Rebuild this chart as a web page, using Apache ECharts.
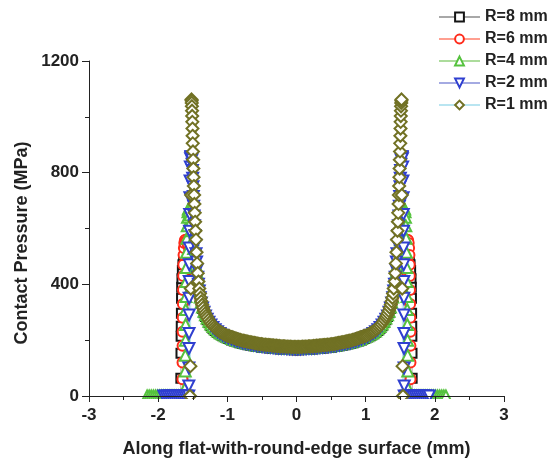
<!DOCTYPE html>
<html><head><meta charset="utf-8">
<script src="https://cdn.jsdelivr.net/npm/echarts@6/dist/echarts.min.js"></script>
<style>html,body{margin:0;padding:0;background:#fff}#c{width:549px;height:463px}</style>
</head><body><div id="c"></div>
<script>
// Half-profile (|x| in mm) — the chart is symmetric about x = 0
const seriesNames = ['R=8 mm', 'R=6 mm', 'R=4 mm', 'R=2 mm', 'R=1 mm'];
const xFlatHalf = [0.02,0.06,0.10,0.14,0.18,0.22,0.26,0.30,0.34,0.38,0.42,0.46,0.50,0.54,0.58,0.62,0.66,0.70,0.74,0.78,0.82,0.86,0.90,0.94];
const xKneeHalf = [0.986,1.028,1.068,1.106,1.142,1.176,1.208,1.238,1.266,1.292,1.316,1.338,1.358,1.376,1.392,1.406];

// R=1 mm (finer mesh)
const xFlatR1 = [0.01,0.03,0.05,0.07,0.09,0.11,0.13,0.15,0.17,0.19,0.21,0.23,0.25,0.27,0.29,0.31,0.33,0.35,0.37,0.39,0.41,0.43,0.45,0.47,0.49,0.51,0.53,0.55,0.57,0.59,0.61,0.63,0.65,0.67,0.69,0.71,0.73,0.75,0.77,0.79,0.81,0.83,0.85,0.87,0.89,0.91,0.93,0.95];
const yFlatR1 = [176,176,176,176,177,177,177,177,178,178,178,178,179,179,180,180,181,181,182,182,183,183,184,184,185,186,186,187,188,189,190,191,192,193,194,195,196,197,198,199,201,202,204,205,207,209,211,212];
const xKneeR1 = [0.97,0.99,1.01,1.03,1.05,1.07,1.09,1.11,1.13,1.15,1.17,1.19,1.21,1.23,1.25,1.27,1.29,1.305,1.32,1.335,1.35,1.363,1.375,1.386,1.396,1.406];
const yKneeR1 = [214,215,217,219,222,225,228,231,234,238,242,247,252,258,265,273,281,288,296,305,316,327,339,352,367,385];
const xEdgeR1 = [1.418,1.428,1.437,1.445,1.453,1.460,1.466,1.471,1.476,1.480,1.484,1.488,1.491,1.494,1.497,1.500,1.502,1.504,1.506,1.508,1.510,1.512,1.514,1.516,1.518,1.523,1.528,1.534,1.540];
const yEdgeR1 = [410,440,475,515,560,592,624,656,688,720,752,784,815,846,876,905,932,958,982,1003,1022,1038,1050,1058,1062,720,385,107,0];

// R=2 mm
const yFlatR2 = [169,169,170,170,171,171,172,173,174,175,176,177,178,180,181,183,185,187,189,191,194,197,200,204];
const yKneeR2 = [208,213,218,224,230,237,245,254,264,275,287,300,315,333,352,376];
const xEdgeR2 = [1.418,1.428,1.437,1.445,1.453,1.461,1.468,1.475,1.481,1.487,1.492,1.497,1.501,1.505,1.509,1.513,1.518,1.521,1.524,1.527,1.530,1.534,1.538,1.541,1.544,1.546,1.548,1.550,1.551,1.552,1.553,1.554,1.555,1.556,1.557,1.558,1.59,1.62,1.65,1.68,1.71,1.74,1.77,1.80,1.83,1.86,1.89,1.92];
const yEdgeR2 = [400,425,452,480,510,542,575,610,645,680,715,750,780,808,830,846,852,856,857,855,850,820,770,710,650,590,530,470,410,350,290,224,170,100,36,0,0,0,0,0,0,0,0,0,0,0,0,0];

// R=4 mm
const yFlatR4 = [171,171,172,172,173,173,174,175,176,177,178,179,180,182,183,185,187,189,191,193,196,199,202,206];
const yKneeR4 = [211,216,221,227,233,241,249,258,268,279,291,304,319,336,355,378];
const xEdgeR4 = [1.418,1.430,1.443,1.457,1.472,1.487,1.502,1.516,1.530,1.541,1.550,1.557,1.563,1.569,1.575,1.580,1.585,1.589,1.593,1.596,1.599,1.601,1.603,1.605,1.607,1.609,1.611,1.62,1.65,1.68,1.71,1.74,1.77,1.80,1.83,1.86,1.89,1.92,1.95,1.98,2.01,2.04,2.07,2.10,2.13,2.16];
const yEdgeR4 = [398,420,445,470,498,528,560,592,622,648,664,671,670,660,640,610,565,515,460,410,356,310,256,200,146,90,28,0,0,0,0,0,0,0,0,0,0,0,0,0,0,0,0,0,0,0];

// R=6 mm
const yFlatR6 = [170,170,171,171,172,172,173,174,175,176,177,178,179,181,182,184,186,188,190,192,195,198,201,205];
const yKneeR6 = [209,214,219,225,231,238,246,255,265,276,288,301,316,333,352,374];
const xEdgeR6 = [1.418,1.432,1.448,1.466,1.486,1.508,1.530,1.552,1.572,1.590,1.604,1.614,1.622,1.628,1.633,1.637,1.639,1.641,1.643,1.645,1.646,1.647,1.648,1.649,1.650,1.70,1.75,1.80,1.85];
const yEdgeR6 = [385,400,418,438,458,480,502,524,542,555,560,558,548,530,505,470,430,380,330,280,230,180,120,60,0,0,0,0,0];

// R=8 mm
const yFlatR8 = [166,166,167,167,168,168,169,170,171,172,173,174,175,177,178,180,182,184,186,188,191,194,197,201];
const yKneeR8 = [206,211,216,222,228,235,243,252,262,273,285,298,313,331,351,376];
const xEdgeR8 = [1.418,1.436,1.456,1.478,1.502,1.528,1.554,1.578,1.600,1.618,1.632,1.642,1.650,1.656,1.660,1.662,1.664,1.666,1.668,1.670,1.672,1.674,1.72,1.76];
const yEdgeR8 = [382,395,408,421,434,447,459,469,477,481,480,470,450,420,390,350,296,250,214,153,64,0,0,0];

function build(xf, yf, xk, yk, xe, ye) {
  const hx = xf.concat(xk, xe);
  const hy = yf.concat(yk, ye);
  const right = hx.map((x, i) => [x, hy[i]]);
  const left = right.slice().reverse().map(p => [-p[0], p[1]]);
  return left.concat(right);
}

const styles = [
  {sym:'emptyRect', size:9, rot:0, c:'#151515', lc:'#a8a8a8', bw:1},
  {sym:'emptyCircle', size:10, rot:0, c:'#ff2a1a', lc:'#ff9f90', bw:1},
  {sym:'emptyTriangle', size:11, rot:0, c:'#55c23e', lc:'#acdc9c', bw:1},
  {sym:'emptyTriangle', size:11, rot:180, c:'#2f3fd0', lc:'#a4aae2', bw:1},
  {sym:'emptyDiamond', size:12, rot:0, c:'#717124', lc:'#b9e5f1', bw:1.4}
];
const datas = [
  build(xFlatHalf, yFlatR8, xKneeHalf, yKneeR8, xEdgeR8, yEdgeR8),
  build(xFlatHalf, yFlatR6, xKneeHalf, yKneeR6, xEdgeR6, yEdgeR6),
  build(xFlatHalf, yFlatR4, xKneeHalf, yKneeR4, xEdgeR4, yEdgeR4),
  build(xFlatHalf, yFlatR2, xKneeHalf, yKneeR2, xEdgeR2, yEdgeR2),
  build(xFlatR1, yFlatR1, xKneeR1, yKneeR1, xEdgeR1, yEdgeR1)
];

const FONT = 'Liberation Sans, Arial, sans-serif';
const chart = echarts.init(document.getElementById('c'), null, {renderer:'canvas'});
chart.setOption({
  animation: false,
  backgroundColor: '#fff',
  grid: {left: 89, right: 45, top: 61, bottom: 65},
  legend: {
    orient: 'vertical', left: 433, top: 4, itemWidth: 41, itemHeight: 11, itemGap: 6,
    textStyle: {fontFamily: FONT, fontWeight: 'bold', fontSize: 16, color: '#222'},
    itemStyle: {borderWidth: 1},
    data: seriesNames
  },
  xAxis: {
    type: 'value', min: -3, max: 3, interval: 1, z: 150,
    name: 'Along flat-with-round-edge surface (mm)', nameLocation: 'middle', nameGap: 44,
    nameTextStyle: {fontFamily: FONT, fontWeight: 'bold', fontSize: 18, color: '#222'},
    axisLine: {onZero: false, lineStyle: {color: '#222', width: 1}},
    axisTick: {length: 6, lineStyle: {color: '#222'}},
    minorTick: {show: true, splitNumber: 2, length: 4, lineStyle: {color: '#222'}},
    splitLine: {show: false},
    axisLabel: {margin: 11, fontFamily: FONT, fontWeight: 'bold', fontSize: 17, color: '#222'}
  },
  yAxis: {
    type: 'value', min: 0, max: 1200, interval: 400, z: 150,
    axisLine: {show: true, onZero: false, lineStyle: {color: '#222', width: 1}},
    axisTick: {show: true, length: 7, lineStyle: {color: '#222'}},
    minorTick: {show: true, splitNumber: 2, length: 4, lineStyle: {color: '#222'}},
    splitLine: {show: false},
    axisLabel: {margin: 10, fontFamily: FONT, fontWeight: 'bold', fontSize: 17, color: '#222',
      formatter: v => String(v)}
  },
  graphic: [
    {type: 'rect', z: 100, shape: {x: 89, y: 399, width: 417, height: 10}, style: {fill: '#fff'}, silent: true},
    {type: 'text', z: 100, x: 22, y: 243, rotation: Math.PI / 2,
     style: {text: 'Contact Pressure (MPa)', fontFamily: FONT, fontWeight: 'bold', fontSize: 18, fill: '#222', align: 'center', verticalAlign: 'middle'}}
  ],
  series: seriesNames.map((n, i) => ({
    name: n, type: 'line', data: datas[i],
    symbol: styles[i].sym, symbolSize: styles[i].size, symbolRotate: styles[i].rot,
    showSymbol: true, showAllSymbol: true,
    lineStyle: {color: styles[i].lc, width: 1},
    itemStyle: {color: styles[i].c, borderColor: styles[i].c, borderWidth: styles[i].bw},
    emphasis: {disabled: true},
    clip: true
  }))
});
</script></body></html>
